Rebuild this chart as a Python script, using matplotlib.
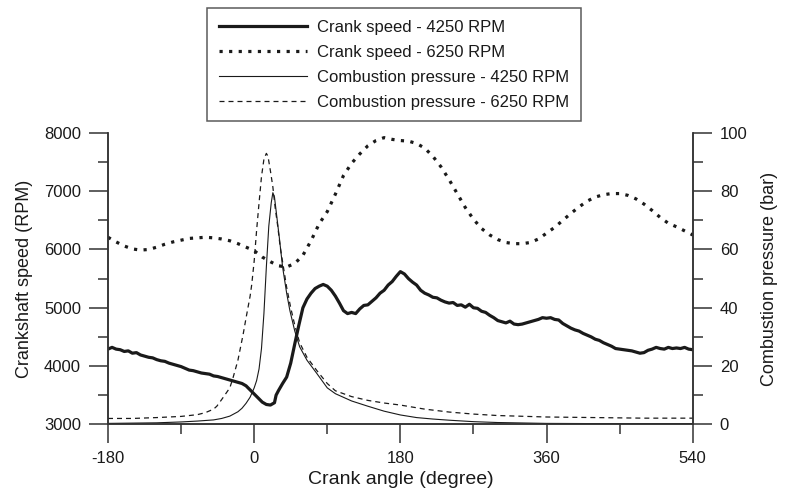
# Crank speed and combustion pressure vs crank angle
import numpy as np
import matplotlib
matplotlib.use('Agg')
import matplotlib.pyplot as plt
import matplotlib.ticker as ticker

plt.rcParams['font.family'] = ['Liberation Sans', 'DejaVu Sans']
plt.rcParams['axes.unicode_minus'] = False

# Crank speed, 4250 RPM (degree, RPM)
ang_cs_4250 = [-180, -175, -170, -165, -160, -155, -150, -145, -140, -135, -130, -125, -120,
               -115, -110, -105, -100, -95, -90, -85, -80, -75, -70, -65, -60, -55, -50, -45,
               -40, -35, -30, -25, -20, -15, -10, -5, 0, 5, 10, 15, 20, 25, 27, 30, 35, 40, 45,
               50, 55, 60, 65, 70, 75, 80, 85, 90, 95, 100, 105, 110, 115, 120, 125, 130, 135,
               140, 145, 150, 155, 160, 165, 170, 175, 180, 185, 190, 195, 200, 205, 210, 215,
               220, 225, 230, 235, 240, 245, 250, 255, 260, 265, 270, 275, 280, 285, 290, 295,
               300, 305, 310, 315, 320, 325, 330, 335, 340, 345, 350, 355, 360, 365, 370, 375,
               380, 385, 390, 395, 400, 405, 410, 415, 420, 425, 430, 435, 440, 445, 450, 455,
               460, 465, 470, 475, 480, 485, 490, 495, 500, 505, 510, 515, 520, 525, 530, 535, 540]
rpm_cs_4250 = [4290, 4320, 4290, 4280, 4250, 4260, 4220, 4230, 4190, 4170, 4150, 4140, 4110,
               4090, 4080, 4050, 4030, 4010, 3990, 3960, 3930, 3920, 3900, 3880, 3870, 3860,
               3830, 3820, 3800, 3780, 3760, 3740, 3720, 3700, 3660, 3590, 3520, 3450, 3380,
               3340, 3330, 3370, 3500, 3580, 3700, 3810, 4050, 4380, 4700, 5000, 5150, 5250,
               5330, 5370, 5400, 5370, 5300, 5200, 5080, 4950, 4900, 4920, 4900, 4980, 5040,
               5050, 5110, 5170, 5250, 5300, 5390, 5450, 5540, 5620, 5580, 5500, 5440, 5390,
               5300, 5250, 5220, 5180, 5170, 5130, 5100, 5080, 5090, 5040, 5050, 5010, 5060,
               5000, 4990, 4940, 4920, 4870, 4830, 4780, 4760, 4740, 4770, 4720, 4710, 4720,
               4740, 4760, 4780, 4800, 4830, 4820, 4830, 4800, 4790, 4730, 4690, 4650, 4620,
               4600, 4560, 4530, 4500, 4460, 4440, 4400, 4370, 4340, 4300, 4290, 4280, 4270,
               4260, 4240, 4220, 4230, 4270, 4290, 4320, 4300, 4290, 4320, 4300, 4310, 4300,
               4320, 4290, 4280]

# Crank speed, 6250 RPM
ang_cs_6250 = [-180, -170, -160, -150, -140, -130, -120, -110, -100, -90, -80, -70, -60, -50,
               -40, -30, -20, -10, 0, 10, 20, 30, 40, 50, 60, 70, 80, 90, 100, 110, 120, 130,
               140, 150, 160, 170, 180, 190, 200, 210, 220, 230, 240, 250, 260, 270, 280, 290,
               300, 310, 320, 330, 340, 350, 360, 370, 380, 390, 400, 410, 420, 430, 440, 450,
               460, 470, 480, 490, 500, 510, 520, 530, 540]
rpm_cs_6250 = [6210, 6130, 6060, 6010, 5990, 6000, 6040, 6090, 6130, 6160, 6190, 6200, 6210,
               6200, 6180, 6150, 6100, 6040, 5980, 5870, 5790, 5720, 5700, 5760, 5900, 6150,
               6440, 6650, 6950, 7270, 7480, 7640, 7780, 7870, 7920, 7890, 7870, 7860, 7820,
               7740, 7600, 7420, 7200, 6960, 6720, 6520, 6360, 6250, 6170, 6120, 6100, 6100,
               6120, 6180, 6280, 6380, 6500, 6620, 6730, 6830, 6900, 6940, 6960, 6960, 6930,
               6870, 6780, 6670, 6550, 6450, 6390, 6320, 6250]

# Combustion pressure, 4250 RPM (degree, bar)
ang_p_4250 = [-180, -150, -120, -90, -70, -50, -40, -30, -20, -15, -10, -5, 0, 3, 6, 9, 12, 15,
              18, 21, 23, 25, 28, 31, 35, 40, 44, 50, 56, 65, 77, 90, 100, 120, 140, 160, 180,
              200, 220, 240, 270, 300, 360, 450, 540]
bar_p_4250 = [0.3, 0.4, 0.5, 0.8, 1.1, 1.5, 2.0, 2.8, 4.3, 5.5, 7.2, 9.3, 12.5, 15, 19, 26, 38,
              54, 68, 76, 79.5, 78, 71, 64, 54, 45, 39, 32, 26.6, 22, 17.5, 12.5, 10.5, 8.0,
              6.2, 4.5, 3.2, 2.3, 1.8, 1.4, 0.9, 0.6, 0.3, 0.2, 0.2]

# Combustion pressure, 6250 RPM
ang_p_6250 = [-180, -150, -120, -90, -70, -60, -50, -46, -40, -30, -26, -20, -13.5, -10, -5, -3,
              0, 3, 6, 9, 12, 15, 17, 20, 23, 26, 29, 32, 36, 40, 45, 50, 56, 65, 77, 90, 100,
              120, 140, 160, 180, 210, 240, 270, 300, 360, 420, 480, 540]
bar_p_6250 = [2.0, 2.0, 2.3, 2.7, 3.3, 4.0, 5.2, 6.2, 8.5, 12.5, 16, 22, 31, 36.5, 44, 48, 56,
              66.6, 76, 85, 91, 93, 92, 87, 81.5, 74, 68, 61, 54, 47, 40, 34, 28, 23, 18.5, 14,
              11.5, 9.5, 8.2, 7.3, 6.6, 5.2, 4.2, 3.5, 3.0, 2.5, 2.3, 2.1, 2.1]

ink = '#1a1a1a'
fig = plt.figure(figsize=(7.86, 4.96), dpi=100)
ax = fig.add_axes([0.1374, 0.1446, 0.7439, 0.5873])
ax2 = ax.twinx()

l1, = ax.plot(ang_cs_4250, rpm_cs_4250, color=ink, lw=2.3, label='Crank speed - 4250 RPM')
l2, = ax.plot(ang_cs_6250, rpm_cs_6250, color=ink, lw=2.3, linestyle=(0, (1, 2)),
              label='Crank speed - 6250 RPM')
l3, = ax2.plot(ang_p_4250, bar_p_4250, color=ink, lw=0.8, label='Combustion pressure - 4250 RPM')
l4, = ax2.plot(ang_p_6250, bar_p_6250, color=ink, lw=0.9, linestyle=(0, (4, 3.2)),
               label='Combustion pressure - 6250 RPM')

ax.set_xlim(-180, 540)
ax.set_ylim(3000, 8000)
ax2.set_ylim(0, 100)
ax.xaxis.set_major_locator(ticker.MultipleLocator(180))
ax.xaxis.set_minor_locator(ticker.MultipleLocator(90))
ax.yaxis.set_major_locator(ticker.MultipleLocator(1000))
ax.yaxis.set_minor_locator(ticker.MultipleLocator(500))
ax2.yaxis.set_major_locator(ticker.MultipleLocator(20))
ax2.yaxis.set_minor_locator(ticker.MultipleLocator(10))

for a in (ax, ax2):
    a.spines['top'].set_visible(False)
    for s in a.spines.values():
        s.set_color('#333333')
        s.set_linewidth(1.1)
    a.tick_params(which='major', length=13.5, width=1.1, color='#333333',
                  labelsize=12, labelcolor=ink, pad=6)
    a.tick_params(which='minor', length=7, width=1.1, color='#333333')

ax.set_xlabel('Crank angle (degree)', fontsize=14, color=ink, labelpad=3)
ax.set_ylabel('Crankshaft speed (RPM)', fontsize=13, color=ink, labelpad=8)
ax2.set_ylabel('Combustion pressure (bar)', fontsize=13, color=ink, labelpad=10)

leg = ax.legend(handles=[l1, l2, l3, l4], loc='upper left',
                bbox_to_anchor=(207 / 786, 1 - 8 / 496), bbox_transform=fig.transFigure,
                borderaxespad=0, fontsize=12, frameon=True, fancybox=False,
                handlelength=5.3, handletextpad=0.6, labelspacing=0.6, borderpad=0.7)
leg.get_frame().set_edgecolor('#333333')
leg.get_frame().set_linewidth(1.1)
for t in leg.get_texts():
    t.set_color(ink)

fig.savefig('out.png', dpi=100)
